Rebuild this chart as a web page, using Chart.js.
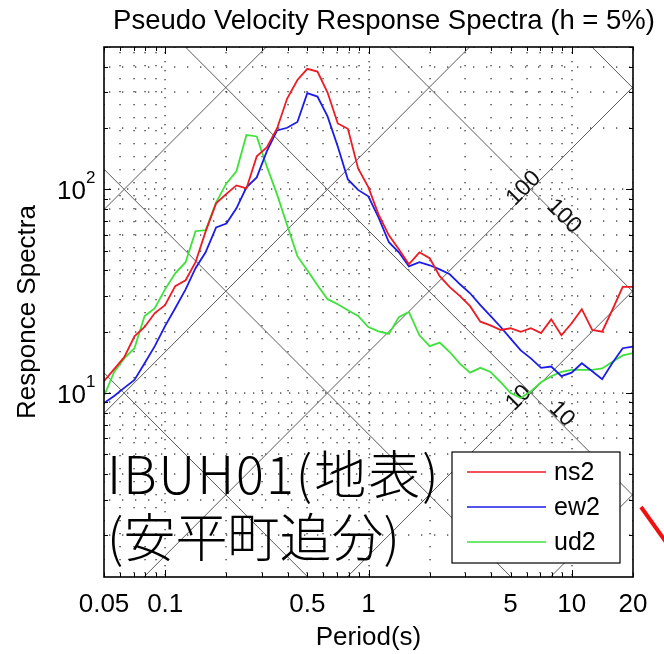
<!DOCTYPE html>
<html>
<head>
<meta charset="utf-8">
<script src="https://cdn.jsdelivr.net/npm/chart.js@4.4.1/dist/chart.umd.min.js"></script>
<style>
  html, body { margin: 0; padding: 0; background: #fff; }
  canvas { display: block; }
</style>
</head>
<body>
<canvas id="spectra" width="664" height="654"></canvas>
<script>
// periods (s), 20 per decade
const PERIODS = [0.05, 0.0561, 0.0629, 0.0706, 0.0792, 0.0889, 0.0998, 0.112, 0.126, 0.141,
  0.158, 0.178, 0.2, 0.224, 0.251, 0.282, 0.316, 0.355, 0.398, 0.447,
  0.5, 0.561, 0.629, 0.706, 0.792, 0.889, 0.998, 1.12, 1.26, 1.41,
  1.58, 1.78, 2, 2.24, 2.51, 2.82, 3.16, 3.55, 3.98, 4.47,
  5, 5.61, 6.29, 7.06, 7.92, 8.89, 9.98, 11.2, 12.6, 14.1,
  15.8, 17.8, 20];

// pseudo velocity (kine)
const NS2 = [11.45, 13.1, 15.0, 19.0, 21.1, 24.7, 27.0, 33.5, 35.8, 43.9,
  62.0, 85.4, 95.1, 104.6, 101.1, 145.2, 160.7, 199.1, 279.3, 344.3,
  390.6, 378.8, 298.9, 210.7, 198.4, 126.8, 102.6, 75.4, 59.5, 50.8,
  42.9, 49.1, 45.9, 37.5, 33.1, 29.9, 26.7, 22.4, 21.5, 20.4,
  20.8, 20.0, 20.8, 19.7, 23.0, 19.2, 22.0, 25.8, 20.4, 20.0,
  25.5, 33.2, 33.2];
const EW2 = [8.93, 9.67, 10.6, 11.6, 14.0, 17.0, 21.3, 26.1, 32.3, 41.0,
  49.1, 65.1, 67.9, 80.7, 102.3, 114.5, 153.6, 194.6, 200.7, 214.3,
  296.5, 285.6, 228, 162.5, 111.9, 99.4, 92.4, 72.9, 55.0, 49.1,
  41.9, 43.9, 42.4, 40.5, 38.3, 34.2, 30.9, 27.0, 23.9, 21.1,
  18.5, 16.2, 14.8, 13.3, 13.5, 12.1, 12.6, 14.0, 12.8, 11.7,
  14.0, 16.6, 16.9];
const UD2 = [9.67, 12.7, 14.8, 16.6, 23.9, 26.1, 32.3, 38.7, 43.9, 62.3,
  63.0, 86.4, 107, 122.6, 185, 181.9, 129.7, 94.5, 66.6, 47.0,
  40.1, 33.8, 28.9, 27.3, 25.5, 23.9, 21.1, 20.1, 19.5, 23.6,
  25.0, 19.2, 17.0, 17.7, 15.9, 13.9, 12.6, 13.3, 12.7, 11.3,
  10.0, 9.45, 10.2, 11.3, 12.1, 12.7, 13.0, 13.0, 13.0, 13.2,
  14.2, 15.3, 15.7];

const SERIES_NAMES = ['ns2', 'ew2', 'ud2'];
const SERIES_COLORS = ['#ec1c24', '#1c1ce8', '#3fe23a'];

const X_TICKS = [0.05, 0.1, 0.5, 1, 5, 10, 20];
const Y_TICKS = [10, 100];           // drawn as 10^1, 10^2
const GUIDE_VALUES = [10, 100];      // labelled displacement / acceleration lines

const X_RANGE = [0.05, 20];
const Y_RANGE = [1.25, 500];

const FONT = '"Liberation Sans", Arial, Helvetica, sans-serif';
const JP_FONT = '"Noto Sans CJK JP", "Noto Sans", sans-serif';

// 1,2,..9 x 10^n inside [lo, hi]
function logGrid(lo, hi) {
  const out = [];
  for (let e = -3; e <= 4; e++) {
    for (let d = 1; d <= 9; d++) {
      const v = +(d * Math.pow(10, e)).toPrecision(6);
      if (v >= lo * 0.9999 && v <= hi * 1.0001) out.push({ v, major: d === 1 });
    }
  }
  return out;
}

const tripartite = {
  id: 'tripartite',
  beforeDatasetsDraw(chart) {
    const { ctx, chartArea: a, scales: { x, y } } = chart;
    ctx.save();
    ctx.beginPath();
    ctx.rect(a.left, a.top, a.right - a.left, a.bottom - a.top);
    ctx.clip();

    // dotted grid
    ctx.fillStyle = '#333';
    for (const g of logGrid(X_RANGE[0], X_RANGE[1])) {
      const px = Math.round(x.getPixelForValue(g.v));
      const step = g.major ? 9 : 13;
      for (let py = a.top + 5; py < a.bottom; py += step) ctx.fillRect(px - 0.6, py, 1.3, 1.3);
    }
    for (const g of logGrid(Y_RANGE[0], Y_RANGE[1])) {
      const py = Math.round(y.getPixelForValue(g.v));
      const step = g.major ? 9 : 13;
      for (let px = a.left + 5; px < a.right; px += step) ctx.fillRect(px, py - 0.6, 1.3, 1.3);
    }

    // constant displacement (SV = 2piD/T) and acceleration (SV = AT/2pi) lines
    ctx.strokeStyle = '#5a5a5a';
    ctx.lineWidth = 1;
    const t0 = X_RANGE[0], t1 = X_RANGE[1];
    for (let e = -3; e <= 6; e++) {
      const v = Math.pow(10, e);
      ctx.beginPath();
      ctx.moveTo(x.getPixelForValue(t0), y.getPixelForValue(2 * Math.PI * v / t0));
      ctx.lineTo(x.getPixelForValue(t1), y.getPixelForValue(2 * Math.PI * v / t1));
      ctx.stroke();
      ctx.beginPath();
      ctx.moveTo(x.getPixelForValue(t0), y.getPixelForValue(v * t0 / (2 * Math.PI)));
      ctx.lineTo(x.getPixelForValue(t1), y.getPixelForValue(v * t1 / (2 * Math.PI)));
      ctx.stroke();
    }

    // line labels at T = 2pi
    ctx.fillStyle = '#111';
    ctx.font = '23px ' + FONT;
    ctx.textAlign = 'center';
    ctx.textBaseline = 'middle';
    for (const v of GUIDE_VALUES) {
      const cx = x.getPixelForValue(2 * Math.PI);
      const cy = y.getPixelForValue(v);
      const big = v >= 100;
      ctx.save();
      ctx.translate(cx + (big ? -7 : -12), cy + (big ? -1 : 5));
      ctx.rotate(-Math.PI / 4);
      ctx.fillText(String(v), 0, 0);
      ctx.restore();
      ctx.save();
      ctx.translate(cx + (big ? 33 : 31), cy + (big ? 27 : 21));
      ctx.rotate(Math.PI / 4);
      ctx.fillText(String(v), 0, 0);
      ctx.restore();
    }
    ctx.restore();
  },

  afterDatasetsDraw(chart) {
    const { ctx, chartArea: a, scales: { x, y } } = chart;
    ctx.save();

    // station label
    ctx.fillStyle = '#000';
    ctx.font = '300 52px ' + JP_FONT;
    ctx.textAlign = 'left';
    ctx.textBaseline = 'alphabetic';
    ctx.letterSpacing = '2px';
    ctx.fillText('IBUH01(地表)', a.left + 3, 494);
    ctx.letterSpacing = '0px';
    ctx.fillText('(安平町追分)', a.left + 3, 557);

    // legend
    const lx = 452, ly = 452, lw = 168, lh = 111;
    ctx.fillStyle = '#fff';
    ctx.fillRect(lx, ly, lw, lh);
    ctx.strokeStyle = '#000';
    ctx.lineWidth = 1.2;
    ctx.strokeRect(lx, ly, lw, lh);
    ctx.font = '25px ' + FONT;
    ctx.textBaseline = 'middle';
    SERIES_NAMES.forEach((name, i) => {
      const yy = 472 + i * 35;
      ctx.strokeStyle = SERIES_COLORS[i];
      ctx.lineWidth = 1.5;
      ctx.beginPath();
      ctx.moveTo(467, yy);
      ctx.lineTo(546, yy);
      ctx.stroke();
      ctx.fillStyle = '#000';
      ctx.fillText(name, 554, yy + 1);
    });

    // ticks, inward on all four sides
    ctx.strokeStyle = '#000';
    ctx.lineWidth = 1;
    ctx.beginPath();
    for (const g of logGrid(X_RANGE[0], X_RANGE[1])) {
      const px = Math.round(x.getPixelForValue(g.v)) + 0.5;
      const len = g.major ? 7 : 4;
      ctx.moveTo(px, a.bottom); ctx.lineTo(px, a.bottom - len);
      ctx.moveTo(px, a.top); ctx.lineTo(px, a.top + len);
    }
    for (const g of logGrid(Y_RANGE[0], Y_RANGE[1])) {
      const py = Math.round(y.getPixelForValue(g.v)) + 0.5;
      const len = g.major ? 7 : 4;
      ctx.moveTo(a.left, py); ctx.lineTo(a.left + len, py);
      ctx.moveTo(a.right, py); ctx.lineTo(a.right - len, py);
    }
    ctx.stroke();

    // frame
    ctx.lineWidth = 1.6;
    ctx.strokeRect(a.left, a.top, a.right - a.left, a.bottom - a.top);
    ctx.restore();
  },

  afterDraw(chart) {
    const { ctx, chartArea: a, scales: { x, y } } = chart;
    ctx.save();
    ctx.fillStyle = '#000';
    ctx.font = '26px ' + FONT;
    ctx.textBaseline = 'alphabetic';

    // x tick labels
    ctx.textAlign = 'center';
    for (const v of X_TICKS) ctx.fillText(String(v), x.getPixelForValue(v), 612);

    // y tick labels 10^n
    for (const v of Y_TICKS) {
      const py = y.getPixelForValue(v);
      ctx.font = '26px ' + FONT;
      ctx.textAlign = 'right';
      ctx.fillText('10', 86, py + 10);
      ctx.font = '17px ' + FONT;
      ctx.textAlign = 'left';
      ctx.fillText(String(Math.round(Math.log10(v))), 86, py - 6);
    }

    // titles
    ctx.font = '27.5px ' + FONT;
    ctx.textAlign = 'center';
    ctx.fillText('Pseudo Velocity Response Spectra (h = 5%)', 384, 29);
    ctx.font = '26px ' + FONT;
    ctx.fillText('Period(s)', (a.left + a.right) / 2, 645);
    ctx.save();
    ctx.translate(35, (a.top + a.bottom) / 2);
    ctx.rotate(-Math.PI / 2);
    ctx.fillText('Responce Spectra', 0, 0);
    ctx.restore();

    // red arrow stub cut at the right edge
    ctx.strokeStyle = '#f01010';
    ctx.lineWidth = 4;
    ctx.beginPath();
    ctx.moveTo(641, 507);
    ctx.lineTo(666, 542);
    ctx.stroke();
    ctx.restore();
  }
};

const seriesData = [NS2, EW2, UD2];

new Chart(document.getElementById('spectra'), {
  type: 'line',
  data: {
    datasets: seriesData.map((vals, i) => ({
      label: SERIES_NAMES[i],
      data: PERIODS.map((t, k) => ({ x: t, y: vals[k] })),
      borderColor: SERIES_COLORS[i],
      borderWidth: 1.8,
      pointRadius: 0,
      tension: 0,
      fill: false,
    })),
  },
  options: {
    responsive: false,
    animation: false,
    events: [],
    layout: { padding: { left: 104, right: 31, top: 47, bottom: 77 } },
    plugins: { legend: { display: false }, tooltip: { enabled: false }, title: { display: false } },
    scales: {
      x: { type: 'logarithmic', min: X_RANGE[0], max: X_RANGE[1], display: false },
      y: { type: 'logarithmic', min: Y_RANGE[0], max: Y_RANGE[1], display: false },
    },
  },
  plugins: [tripartite],
});
</script>
</body>
</html>
